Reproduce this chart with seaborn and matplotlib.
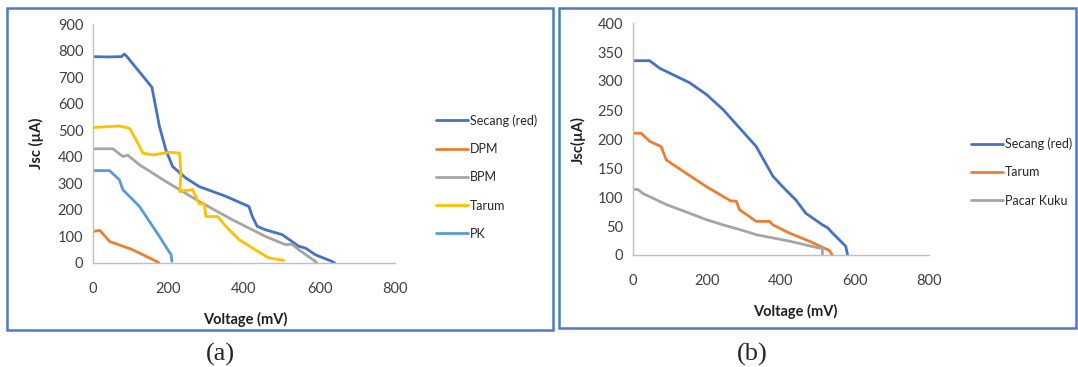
import matplotlib
matplotlib.use("Agg")
import matplotlib.pyplot as plt
import seaborn as sns
from matplotlib.patches import Rectangle

# ---- panel (a) data: voltage (mV), Jsc (uA) ----
secang_a_v = [0, 40, 75, 83, 90, 156, 176, 193, 211, 246, 281, 352, 413, 422, 435, 457, 501, 527, 545, 563, 589, 633, 640]
secang_a_j = [777, 776, 777, 787, 777, 662, 514, 426, 363, 320, 288, 251, 213, 175, 138, 125, 107, 81, 63, 56, 31, 6, 0]

dpm_v = [0, 18, 44, 105, 171, 175]
dpm_j = [119, 123, 81, 50, 4, 0]

bpm_v = [0, 53, 79, 92, 123, 193, 281, 369, 457, 510, 527, 545, 589, 593]
bpm_j = [430, 430, 401, 406, 370, 307, 232, 163, 100, 69, 71, 50, 6, 0]

tarum_a_v = [0, 70, 97, 114, 132, 158, 202, 229, 233, 230, 246, 264, 272, 281, 295, 299, 330, 352, 387, 440, 466, 506]
tarum_a_j = [510, 516, 507, 464, 414, 407, 417, 414, 338, 269, 273, 276, 251, 223, 223, 175, 175, 138, 88, 41, 19, 10]

pk_v = [0, 44, 70, 79, 123, 176, 198, 207, 209]
pk_j = [348, 348, 313, 276, 213, 100, 50, 31, 6]

# ---- panel (b) data ----
secang_b_v = [0, 45, 72, 153, 198, 243, 288, 333, 378, 404, 440, 467, 512, 526, 539, 575, 580]
secang_b_j = [335, 335, 322, 297, 277, 251, 219, 187, 136, 118, 95, 72, 52, 47, 38, 15, 0]

tarum_b_v = [0, 22, 45, 76, 90, 108, 198, 265, 279, 288, 333, 369, 378, 422, 476, 530, 539]
tarum_b_j = [210, 210, 196, 187, 164, 156, 118, 93, 93, 78, 58, 58, 52, 38, 24, 8, 0]

pacar_v = [0, 13, 27, 90, 153, 198, 243, 288, 333, 422, 503, 512, 512]
pacar_j = [113, 113, 106, 87, 72, 61, 52, 44, 35, 24, 12, 12, 0]

series_a = [
    ("Secang (red)", secang_a_v, secang_a_j, "#4472C4"),
    ("DPM", dpm_v, dpm_j, "#ED7D31"),
    ("BPM", bpm_v, bpm_j, "#A5A5A5"),
    ("Tarum", tarum_a_v, tarum_a_j, "#FFC000"),
    ("PK", pk_v, pk_j, "#5B9BD5"),
]
series_b = [
    ("Secang (red)", secang_b_v, secang_b_j, "#4472C4"),
    ("Tarum", tarum_b_v, tarum_b_j, "#ED7D31"),
    ("Pacar Kuku", pacar_v, pacar_j, "#A5A5A5"),
]

sns.set_style("white")
plt.rcParams["font.family"] = ["Lato", "DejaVu Sans"]

W, H = 1078, 367
fig = plt.figure(figsize=(W / 100, H / 100), dpi=100)


def fx(px):
    return px / W


def fy(py):
    return 1 - py / H


def draw_panel(ax, series, ymax, ystep, ylabel, leg_xy, ylab_pos, xlab_pos):
    for name, v, j, c in series:
        sns.lineplot(x=v, y=j, ax=ax, color=c, lw=2, label=name, sort=False, estimator=None)
    ax.set_xlim(0, 800)
    ax.set_ylim(0, ymax)
    ax.set_xticks(range(0, 801, 200))
    ax.set_yticks(range(0, ymax + 1, ystep))
    ax.tick_params(length=0, labelsize=10.5, colors="#404040", pad=7)
    ax.tick_params(axis="x", pad=14)
    for s in ["top", "right"]:
        ax.spines[s].set_visible(False)
    for s in ["left", "bottom"]:
        ax.spines[s].set_color("#BFBFBF")
        ax.spines[s].set_linewidth(1)
    ax.set_xlabel("")
    ax.set_ylabel("")
    ax.legend(loc="center left", bbox_to_anchor=leg_xy, bbox_transform=fig.transFigure,
              frameon=False, fontsize=9, handlelength=2.5, handletextpad=0.2, labelspacing=1.3,
              borderpad=0.4)
    fig.text(ylab_pos[0], ylab_pos[1], ylabel, rotation=90, ha="center", va="center",
             fontsize=10.5, fontweight="bold", color="#202020")
    fig.text(xlab_pos[0], xlab_pos[1], "Voltage (mV)", ha="center", va="center",
             fontsize=10.5, fontweight="bold", color="#202020")


# panel frames
fig.patches.append(Rectangle((fx(7), fy(330)), fx(553 - 7), (330 - 8) / H, transform=fig.transFigure,
                             fill=False, edgecolor="#4F7BC0", lw=1.8))
fig.patches.append(Rectangle((fx(559), fy(328)), fx(1076 - 559), (328 - 8) / H, transform=fig.transFigure,
                             fill=False, edgecolor="#4F7BC0", lw=1.8))

ax_a = fig.add_axes([fx(93), fy(263), fx(395 - 93), (263 - 24) / H])
draw_panel(ax_a, series_a, 900, 100, "Jsc (µA)", (fx(425), fy(177)), (fx(36), fy(143)), (fx(245), fy(319)))

ax_b = fig.add_axes([fx(633), fy(255), fx(929 - 633), (255 - 23) / H])
draw_panel(ax_b, series_b, 400, 50, "Jsc(µA)", (fx(960), fy(172)), (fx(578), fy(140)), (fx(795), fy(311)))

fig.text(fx(220), fy(354), "(a)", ha="center", va="center", fontsize=19, family="Liberation Serif")
fig.text(fx(752), fy(354), "(b)", ha="center", va="center", fontsize=19, family="Liberation Serif")

fig.savefig("out.png", dpi=100)
